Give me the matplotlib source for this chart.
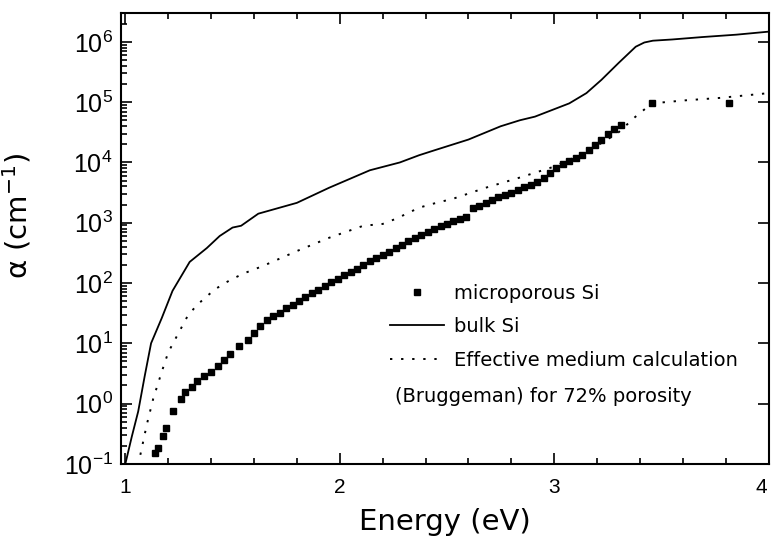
import numpy as np
import matplotlib
matplotlib.use('Agg')
import matplotlib.pyplot as plt
from matplotlib.ticker import MultipleLocator, FixedLocator, LogLocator
from matplotlib.transforms import ScaledTranslation

plt.rcParams['font.family'] = ['Liberation Sans', 'DejaVu Sans']
plt.rcParams['mathtext.default'] = 'regular'

# bulk Si (solid line): energy (eV), log10(alpha)
bulk_e = [1.00, 1.01, 1.03, 1.06, 1.09, 1.12, 1.17, 1.22, 1.30, 1.38, 1.44, 1.50,
          1.54, 1.62, 1.80, 1.95, 2.14, 2.28, 2.37, 2.44, 2.60, 2.75, 2.84, 2.91,
          3.07, 3.15, 3.22, 3.30, 3.38, 3.42, 3.46, 3.55, 3.69, 3.85, 4.00]
bulk_log = [-1.0, -0.85, -0.55, -0.13, 0.45, 1.00, 1.42, 1.87, 2.35, 2.58, 2.78, 2.92,
            2.95, 3.15, 3.33, 3.58, 3.87, 4.00, 4.12, 4.20, 4.38, 4.60, 4.70, 4.76,
            4.98, 5.15, 5.37, 5.65, 5.92, 5.99, 6.02, 6.04, 6.08, 6.12, 6.17]

# effective medium calculation (dotted line)
ema_e = [1.07, 1.10, 1.13, 1.17, 1.20, 1.245, 1.29, 1.33, 1.37, 1.42, 1.465, 1.50,
         1.56, 1.64, 1.80, 1.95, 2.11, 2.20, 2.265, 2.37, 2.44, 2.53, 2.68, 2.84,
         2.99, 3.15, 3.256, 3.30, 3.376, 3.455, 3.61, 3.77, 4.00]
ema_log = [-0.85, -0.35, 0.08, 0.53, 0.85, 1.15, 1.45, 1.62, 1.75, 1.90, 2.00, 2.07,
           2.17, 2.28, 2.53, 2.75, 2.95, 2.98, 3.07, 3.25, 3.32, 3.40, 3.58, 3.75,
           3.92, 4.17, 4.40, 4.50, 4.75, 4.98, 5.03, 5.07, 5.15]

# microporous Si (squares)
micro_e = [1.14, 1.15, 1.175, 1.19, 1.22, 1.26, 1.28, 1.31, 1.335, 1.365, 1.40, 1.43,
           1.46, 1.49, 1.53, 1.57, 1.60, 1.63, 1.66, 1.69, 1.72, 1.75, 1.78, 1.81,
           1.84, 1.87, 1.90, 1.93, 1.96, 1.99, 2.02, 2.05, 2.08, 2.11, 2.14, 2.17,
           2.20, 2.23, 2.26, 2.29, 2.32, 2.35, 2.38, 2.41, 2.44, 2.47, 2.50, 2.53,
           2.56, 2.59, 2.62, 2.65, 2.68, 2.71, 2.74, 2.77, 2.80, 2.83, 2.86, 2.89,
           2.92, 2.95, 2.98, 3.01, 3.04, 3.07, 3.10, 3.13, 3.16, 3.19, 3.22, 3.25,
           3.28, 3.31, 3.455, 3.817]
micro_log = [-0.82, -0.73, -0.53, -0.40, -0.12, 0.07, 0.20, 0.28, 0.37, 0.45, 0.53, 0.63,
             0.73, 0.82, 0.95, 1.05, 1.17, 1.29, 1.38, 1.45, 1.51, 1.58, 1.64, 1.70,
             1.77, 1.83, 1.89, 1.95, 2.01, 2.07, 2.13, 2.19, 2.24, 2.30, 2.36, 2.41,
             2.47, 2.52, 2.58, 2.63, 2.69, 2.74, 2.79, 2.85, 2.89, 2.94, 2.98, 3.03,
             3.06, 3.10, 3.24, 3.28, 3.33, 3.37, 3.42, 3.46, 3.50, 3.55, 3.59, 3.63,
             3.67, 3.75, 3.82, 3.90, 3.98, 4.03, 4.08, 4.13, 4.20, 4.29, 4.38, 4.47,
             4.55, 4.62, 4.98, 4.98]

fig = plt.figure(figsize=(7.71, 5.47), dpi=100)
ax = fig.add_axes([0.157, 0.152, 0.840, 0.824])

ax.plot(micro_e, 10 ** np.array(micro_log), 's', color='black', markersize=4.5,
        label='microporous Si')
ax.plot(bulk_e, 10 ** np.array(bulk_log), '-', color='black', lw=1.3, label='bulk Si')
ax.plot(ema_e, 10 ** np.array(ema_log), color='black', lw=1.4,
        linestyle=(0, (1.2, 4.5)), label='Effective medium calculation')

ax.set_yscale('log')
ax.set_xlim(0.98, 4.0)
ax.set_ylim(1e-1, 3e6)

ax.xaxis.set_major_locator(FixedLocator([1, 2, 3, 4]))
ax.xaxis.set_minor_locator(MultipleLocator(0.2))
ax.yaxis.set_minor_locator(LogLocator(base=10, subs=np.arange(2, 10), numticks=20))
ax.set_yticks([10.0 ** k for k in range(-1, 7)])
ax.set_yticklabels(['$10^{%d}$' % k for k in range(-1, 7)])

ax.tick_params(which='both', direction='in', top=True, right=True, width=1.2)
ax.tick_params(which='major', length=8)
ax.tick_params(which='minor', length=4)
ax.tick_params(axis='y', which='minor', right=False)
ax.tick_params(axis='y', labelsize=18, pad=6)
ax.tick_params(axis='x', labelsize=15, pad=10)
for s in ax.spines.values():
    s.set_linewidth(1.5)

# keep the "4" inside the figure edge
last = ax.get_xticklabels()[-1]
last.set_transform(last.get_transform() + ScaledTranslation(-5 / 72, 0, fig.dpi_scale_trans))

ax.set_xlabel('Energy (eV)', fontsize=21, labelpad=8, family='DejaVu Sans')
ax.set_ylabel(r'$\alpha$ (cm$^{-1}$)', fontsize=21, family='DejaVu Sans')
ax.yaxis.set_label_coords(-0.135, 0.55)

leg = ax.legend(loc='upper left', bbox_to_anchor=(0.415, 0.40), frameon=False,
                prop={'family': 'DejaVu Sans', 'size': 14}, handlelength=2.8,
                handletextpad=0.5, labelspacing=0.75, borderpad=0, borderaxespad=0)
ax.text(0.423, 0.15, '(Bruggeman) for 72% porosity', transform=ax.transAxes,
        fontsize=14, va='center', family='DejaVu Sans')

fig.savefig('out.png', dpi=100)
